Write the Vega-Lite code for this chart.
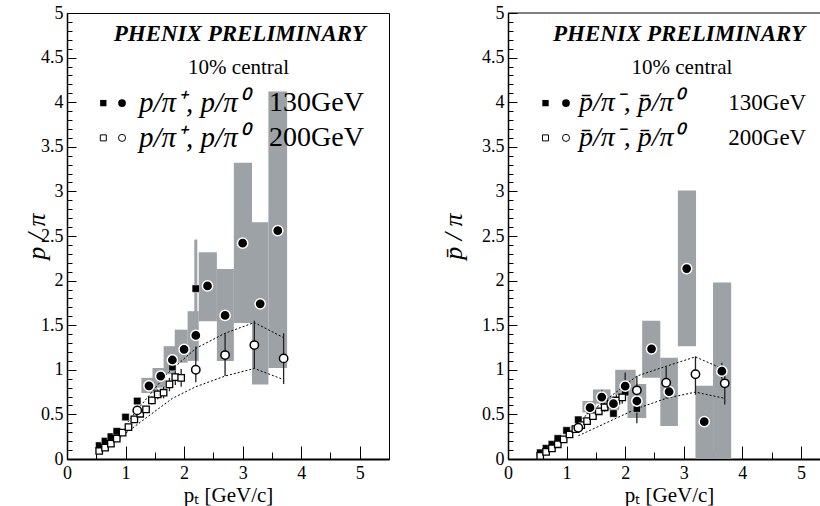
{
  "$schema": "https://vega.github.io/schema/vega-lite/v6.json",
  "background": "white",
  "padding": {"left": 22, "top": 3, "right": 0, "bottom": 0},
  "spacing": 50,
  "config": {
    "font": "Liberation Serif",
    "view": {"stroke": null},
    "axis": {
      "grid": false,
      "labelColor": "black",
      "labelFont": "Liberation Serif",
      "labelFontSize": 18,
      "labelOverlap": false,
      "labelFlush": false,
      "labelBound": false,
      "tickColor": "black",
      "tickWidth": 1,
      "domainColor": "black",
      "titleColor": "black",
      "titleFont": "Liberation Serif",
      "titleFontWeight": "normal"
    },
    "axisX": {
      "labelPadding": 18,
      "domainWidth": 2,
      "titleFontSize": 21,
      "titleX": 161,
      "titleY": 36,
      "titleAlign": "center",
      "titleBaseline": "middle"
    },
    "axisY": {
      "labelPadding": 13,
      "domainWidth": 1.5,
      "titleFontSize": 26,
      "titleFontStyle": "italic",
      "titleY": 223,
      "titleAngle": -90,
      "titleAlign": "center",
      "titleBaseline": "middle"
    }
  },
  "datasets": {
    "L": [
      {"series": "sq130", "pt": 0.55, "r": 0.15},
      {"series": "sq130", "pt": 0.65, "r": 0.2},
      {"series": "sq130", "pt": 0.75, "r": 0.25},
      {"series": "sq130", "pt": 0.85, "r": 0.31},
      {"series": "sq130", "pt": 1.0, "r": 0.47},
      {"series": "sq130", "pt": 1.2, "r": 0.65},
      {"series": "sq130", "pt": 1.8, "r": 1.03},
      {"series": "sq130", "pt": 2.2, "r": 1.91},
      {"series": "sq200", "pt": 0.55, "r": 0.09},
      {"series": "sq200", "pt": 0.65, "r": 0.127},
      {"series": "sq200", "pt": 0.75, "r": 0.172},
      {"series": "sq200", "pt": 0.85, "r": 0.228},
      {"series": "sq200", "pt": 0.95, "r": 0.295},
      {"series": "sq200", "pt": 1.05, "r": 0.358},
      {"series": "sq200", "pt": 1.15, "r": 0.444},
      {"series": "sq200", "pt": 1.25, "r": 0.507},
      {"series": "sq200", "pt": 1.35, "r": 0.556},
      {"series": "sq200", "pt": 1.45, "r": 0.657, "lo": 0.61, "hi": 0.7},
      {"series": "sq200", "pt": 1.55, "r": 0.724, "lo": 0.67, "hi": 0.78},
      {"series": "sq200", "pt": 1.65, "r": 0.743, "lo": 0.68, "hi": 0.81},
      {"series": "sq200", "pt": 1.75, "r": 0.836, "lo": 0.76, "hi": 0.91},
      {"series": "sq200", "pt": 1.85, "r": 0.918, "lo": 0.83, "hi": 1.01},
      {"series": "sq200", "pt": 1.95, "r": 0.91, "lo": 0.81, "hi": 1.01},
      {"series": "ci130", "pt": 1.4, "r": 0.82},
      {"series": "ci130", "pt": 1.6, "r": 0.93},
      {"series": "ci130", "pt": 1.8, "r": 1.11},
      {"series": "ci130", "pt": 2.0, "r": 1.23},
      {"series": "ci130", "pt": 2.2, "r": 1.385},
      {"series": "ci130", "pt": 2.4, "r": 1.94},
      {"series": "ci130", "pt": 2.7, "r": 1.61},
      {"series": "ci130", "pt": 3.0, "r": 2.42},
      {"series": "ci130", "pt": 3.3, "r": 1.74},
      {"series": "ci130", "pt": 3.6, "r": 2.56},
      {"series": "ci200", "pt": 1.2, "r": 0.545},
      {"series": "ci200", "pt": 2.2, "r": 1.0, "lo": 0.86, "hi": 1.26},
      {"series": "ci200", "pt": 2.7, "r": 1.165, "lo": 0.93, "hi": 1.41},
      {"series": "ci200", "pt": 3.2, "r": 1.277, "lo": 1.01, "hi": 1.55},
      {"series": "ci200", "pt": 3.7, "r": 1.128, "lo": 0.84, "hi": 1.41}
    ],
    "Lsys": [
      {"pt": 1.27, "pt2": 1.54, "r": 0.74, "r2": 0.91},
      {"pt": 1.46, "pt2": 1.68, "r": 0.8, "r2": 1.02},
      {"pt": 1.65, "pt2": 1.86, "r": 0.95, "r2": 1.265},
      {"pt": 1.84, "pt2": 2.06, "r": 1.08, "r2": 1.45},
      {"pt": 2.06, "pt2": 2.25, "r": 1.1, "r2": 1.657},
      {"pt": 2.25, "pt2": 2.56, "r": 1.545, "r2": 2.318},
      {"pt": 2.56, "pt2": 2.85, "r": 1.1, "r2": 2.13},
      {"pt": 2.85, "pt2": 3.16, "r": 1.526, "r2": 3.32},
      {"pt": 3.16, "pt2": 3.44, "r": 0.836, "r2": 2.654},
      {"pt": 3.44, "pt2": 3.76, "r": 1.02, "r2": 4.12}
    ],
    "Lsysline": [
      {"pt": 2.2, "lo": 1.6, "hi": 2.46}
    ],
    "Lband": [
      {"edge": "upper", "pt": 1.0, "r": 0.38},
      {"edge": "upper", "pt": 1.2, "r": 0.55},
      {"edge": "upper", "pt": 1.7, "r": 0.95},
      {"edge": "upper", "pt": 2.2, "r": 1.24},
      {"edge": "upper", "pt": 2.7, "r": 1.41},
      {"edge": "upper", "pt": 3.2, "r": 1.53},
      {"edge": "upper", "pt": 3.7, "r": 1.36},
      {"edge": "lower", "pt": 0.9, "r": 0.24},
      {"edge": "lower", "pt": 1.8, "r": 0.68},
      {"edge": "lower", "pt": 2.2, "r": 0.81},
      {"edge": "lower", "pt": 2.7, "r": 0.93},
      {"edge": "lower", "pt": 3.2, "r": 1.015},
      {"edge": "lower", "pt": 3.7, "r": 0.89}
    ],
    "R": [
      {"series": "sq130", "pt": 0.55, "r": 0.07},
      {"series": "sq130", "pt": 0.65, "r": 0.12},
      {"series": "sq130", "pt": 0.75, "r": 0.165},
      {"series": "sq130", "pt": 0.85, "r": 0.23},
      {"series": "sq130", "pt": 1.0, "r": 0.32},
      {"series": "sq130", "pt": 1.2, "r": 0.44},
      {"series": "sq130", "pt": 1.4, "r": 0.545},
      {"series": "sq130", "pt": 1.8, "r": 0.51},
      {"series": "sq130", "pt": 2.0, "r": 0.75},
      {"series": "sq130", "pt": 2.2, "r": 0.565},
      {"series": "sq200", "pt": 0.55, "r": 0.035},
      {"series": "sq200", "pt": 0.65, "r": 0.08},
      {"series": "sq200", "pt": 0.75, "r": 0.12},
      {"series": "sq200", "pt": 0.85, "r": 0.165},
      {"series": "sq200", "pt": 0.95, "r": 0.22},
      {"series": "sq200", "pt": 1.05, "r": 0.275},
      {"series": "sq200", "pt": 1.15, "r": 0.335},
      {"series": "sq200", "pt": 1.25, "r": 0.38},
      {"series": "sq200", "pt": 1.35, "r": 0.425},
      {"series": "sq200", "pt": 1.45, "r": 0.48},
      {"series": "sq200", "pt": 1.55, "r": 0.535},
      {"series": "sq200", "pt": 1.65, "r": 0.58, "lo": 0.53, "hi": 0.63},
      {"series": "sq200", "pt": 1.75, "r": 0.62, "lo": 0.56, "hi": 0.68},
      {"series": "sq200", "pt": 1.85, "r": 0.655, "lo": 0.59, "hi": 0.72},
      {"series": "sq200", "pt": 1.95, "r": 0.69, "lo": 0.62, "hi": 0.76},
      {"series": "ci130", "pt": 1.4, "r": 0.575, "lo": 0.5, "hi": 0.64},
      {"series": "ci130", "pt": 1.6, "r": 0.694, "lo": 0.62, "hi": 0.77},
      {"series": "ci130", "pt": 1.8, "r": 0.62, "lo": 0.53, "hi": 0.7},
      {"series": "ci130", "pt": 2.0, "r": 0.817, "lo": 0.66, "hi": 0.97},
      {"series": "ci130", "pt": 2.2, "r": 0.65, "lo": 0.4, "hi": 0.79},
      {"series": "ci130", "pt": 2.45, "r": 1.235},
      {"series": "ci130", "pt": 2.75, "r": 0.754},
      {"series": "ci130", "pt": 3.05, "r": 2.135},
      {"series": "ci130", "pt": 3.35, "r": 0.418},
      {"series": "ci130", "pt": 3.65, "r": 0.985, "lo": 0.9, "hi": 1.08},
      {"series": "ci200", "pt": 1.2, "r": 0.35},
      {"series": "ci200", "pt": 2.2, "r": 0.77, "lo": 0.6, "hi": 0.93},
      {"series": "ci200", "pt": 2.7, "r": 0.855, "lo": 0.68, "hi": 1.03},
      {"series": "ci200", "pt": 3.2, "r": 0.95, "lo": 0.72, "hi": 1.15},
      {"series": "ci200", "pt": 3.7, "r": 0.848, "lo": 0.61, "hi": 1.02}
    ],
    "Rsys": [
      {"pt": 1.27, "pt2": 1.5, "r": 0.52, "r2": 0.65},
      {"pt": 1.45, "pt2": 1.75, "r": 0.62, "r2": 0.78},
      {"pt": 1.7, "pt2": 1.9, "r": 0.55, "r2": 0.7},
      {"pt": 1.83, "pt2": 2.18, "r": 0.72, "r2": 1.0},
      {"pt": 2.04, "pt2": 2.36, "r": 0.46, "r2": 0.84},
      {"pt": 2.29, "pt2": 2.6, "r": 0.91, "r2": 1.55},
      {"pt": 2.6, "pt2": 2.9, "r": 0.37, "r2": 1.135},
      {"pt": 2.9, "pt2": 3.21, "r": 1.265, "r2": 3.01},
      {"pt": 3.2, "pt2": 3.5, "r": 0.0, "r2": 0.82},
      {"pt": 3.5, "pt2": 3.81, "r": 0.0, "r2": 1.98}
    ],
    "Rband": [
      {"edge": "upper", "pt": 1.2, "r": 0.42},
      {"edge": "upper", "pt": 2.2, "r": 0.93},
      {"edge": "upper", "pt": 2.7, "r": 1.04},
      {"edge": "upper", "pt": 3.2, "r": 1.145},
      {"edge": "upper", "pt": 3.7, "r": 1.0},
      {"edge": "lower", "pt": 1.2, "r": 0.26},
      {"edge": "lower", "pt": 2.2, "r": 0.565},
      {"edge": "lower", "pt": 2.7, "r": 0.68},
      {"edge": "lower", "pt": 3.2, "r": 0.75},
      {"edge": "lower", "pt": 3.7, "r": 0.68}
    ],
    "legL": [
      {"label": "PHENIX PRELIMINARY", "role": "head"},
      {"label": "10% central", "role": "sub"},
      {"label": "p/π⁺,   p/π⁰", "role": "ratio130"},
      {"label": "p/π⁺,   p/π⁰", "role": "ratio200"},
      {"label": "130GeV", "role": "e130"},
      {"label": "200GeV", "role": "e200"}
    ],
    "legR": [
      {"label": "PHENIX PRELIMINARY", "role": "head"},
      {"label": "10% central", "role": "sub"},
      {"label": "p̄/π⁻,   p̄/π⁰", "role": "ratio130"},
      {"label": "p̄/π⁻,   p̄/π⁰", "role": "ratio200"},
      {"label": "130GeV", "role": "e130"},
      {"label": "200GeV", "role": "e200"}
    ],
    "sym": [
      {"series": "sq130"},
      {"series": "ci130"},
      {"series": "sq200"},
      {"series": "ci200"}
    ],
    "frame": [
      {"part": "top"}
    ]
  },
  "hconcat": [
    {
      "width": 322,
      "height": 446,
      "view": {"stroke": "black", "strokeWidth": 1},
      "layer": [
        {
          "data": {"name": "Lsys"},
          "mark": {"type": "rect", "fill": "#9da2a7", "clip": true},
          "encoding": {
            "x": {"field": "pt", "type": "quantitative", "scale": {"domain": [0, 5.5], "nice": false, "zero": false},
              "axis": {"tickCount": 11, "labelExpr": "datum.value % 1 == 0 ? format(datum.value, '') : ''", "tickSize": {"condition": {"test": "datum.value % 1 == 0", "value": -13}, "value": -7}, "title": "pₜ [GeV/c]"}},
            "x2": {"field": "pt2"},
            "y": {"field": "r", "type": "quantitative", "scale": {"domain": [0, 5], "nice": false, "zero": false},
              "axis": {"tickCount": 50, "labelExpr": "abs(datum.value*2 - round(datum.value*2)) < 0.001 ? format(datum.value, '') : ''", "tickSize": {"condition": {"test": "abs(datum.value*2 - round(datum.value*2)) < 0.001", "value": -9}, "value": -5}, "title": "p / π", "titleX": -31}},
            "y2": {"field": "r2"}
          }
        },
        {
          "data": {"name": "Lsysline"},
          "mark": {"type": "rule", "color": "#9da2a7", "strokeWidth": 3},
          "encoding": {
            "x": {"field": "pt", "type": "quantitative",
              "axis": {"tickCount": 11, "labelExpr": "datum.value % 1 == 0 ? format(datum.value, '') : ''", "tickSize": {"condition": {"test": "datum.value % 1 == 0", "value": -13}, "value": -7}, "title": "pₜ [GeV/c]"}},
            "y": {"field": "lo", "type": "quantitative",
              "axis": {"tickCount": 50, "labelExpr": "abs(datum.value*2 - round(datum.value*2)) < 0.001 ? format(datum.value, '') : ''", "tickSize": {"condition": {"test": "abs(datum.value*2 - round(datum.value*2)) < 0.001", "value": -9}, "value": -5}, "title": "p / π", "titleX": -31}},
            "y2": {"field": "hi"}
          }
        },
        {
          "data": {"name": "Lband"},
          "mark": {"type": "line", "color": "black", "strokeWidth": 1, "strokeDash": [2, 2]},
          "encoding": {
            "x": {"field": "pt", "type": "quantitative",
              "axis": {"tickCount": 11, "labelExpr": "datum.value % 1 == 0 ? format(datum.value, '') : ''", "tickSize": {"condition": {"test": "datum.value % 1 == 0", "value": -13}, "value": -7}, "title": "pₜ [GeV/c]"}},
            "y": {"field": "r", "type": "quantitative",
              "axis": {"tickCount": 50, "labelExpr": "abs(datum.value*2 - round(datum.value*2)) < 0.001 ? format(datum.value, '') : ''", "tickSize": {"condition": {"test": "abs(datum.value*2 - round(datum.value*2)) < 0.001", "value": -9}, "value": -5}, "title": "p / π", "titleX": -31}},
            "detail": {"field": "edge"}
          }
        },
        {
          "data": {"name": "L"},
          "transform": [{"filter": "isValid(datum.lo)"}],
          "mark": {"type": "rule", "color": "#222", "strokeWidth": 1.3},
          "encoding": {
            "x": {"field": "pt", "type": "quantitative",
              "axis": {"tickCount": 11, "labelExpr": "datum.value % 1 == 0 ? format(datum.value, '') : ''", "tickSize": {"condition": {"test": "datum.value % 1 == 0", "value": -13}, "value": -7}, "title": "pₜ [GeV/c]"}},
            "y": {"field": "lo", "type": "quantitative",
              "axis": {"tickCount": 50, "labelExpr": "abs(datum.value*2 - round(datum.value*2)) < 0.001 ? format(datum.value, '') : ''", "tickSize": {"condition": {"test": "abs(datum.value*2 - round(datum.value*2)) < 0.001", "value": -9}, "value": -5}, "title": "p / π", "titleX": -31}},
            "y2": {"field": "hi"}
          }
        },
        {
          "data": {"name": "L"},
          "layer": [
            {"transform": [{"filter": "datum.series == 'sq130'"}], "mark": {"type": "point", "shape": "square", "filled": true, "fill": "black", "stroke": "white", "strokeWidth": 0.5, "size": 55, "opacity": 1}},
            {"transform": [{"filter": "datum.series == 'sq200'"}], "mark": {"type": "point", "shape": "square", "filled": true, "fill": "white", "stroke": "black", "strokeWidth": 1.3, "size": 42, "opacity": 1}},
            {"transform": [{"filter": "datum.series == 'ci130'"}], "mark": {"type": "point", "shape": "circle", "filled": true, "fill": "black", "stroke": "white", "strokeWidth": 1.5, "size": 105, "opacity": 1}},
            {"transform": [{"filter": "datum.series == 'ci200'"}], "mark": {"type": "point", "shape": "circle", "filled": true, "fill": "white", "stroke": "black", "strokeWidth": 1.5, "size": 70, "opacity": 1}}
          ],
          "encoding": {
            "x": {"field": "pt", "type": "quantitative",
              "axis": {"tickCount": 11, "labelExpr": "datum.value % 1 == 0 ? format(datum.value, '') : ''", "tickSize": {"condition": {"test": "datum.value % 1 == 0", "value": -13}, "value": -7}, "title": "pₜ [GeV/c]"}},
            "y": {"field": "r", "type": "quantitative",
              "axis": {"tickCount": 50, "labelExpr": "abs(datum.value*2 - round(datum.value*2)) < 0.001 ? format(datum.value, '') : ''", "tickSize": {"condition": {"test": "abs(datum.value*2 - round(datum.value*2)) < 0.001", "value": -9}, "value": -5}, "title": "p / π", "titleX": -31}}
          }
        },
        {
          "data": {"name": "sym"},
          "transform": [{"filter": "datum.series == 'sq130'"}],
          "mark": {"type": "point", "shape": "square", "filled": true, "fill": "black", "size": 40, "opacity": 1},
          "encoding": {
            "x": {"datum": 0.62, "axis": {"tickCount": 11, "labelExpr": "datum.value % 1 == 0 ? format(datum.value, '') : ''", "tickSize": {"condition": {"test": "datum.value % 1 == 0", "value": -13}, "value": -7}, "title": "pₜ [GeV/c]"}},
            "y": {"datum": 3.99, "axis": {"tickCount": 50, "labelExpr": "abs(datum.value*2 - round(datum.value*2)) < 0.001 ? format(datum.value, '') : ''", "tickSize": {"condition": {"test": "abs(datum.value*2 - round(datum.value*2)) < 0.001", "value": -9}, "value": -5}, "title": "p / π", "titleX": -31}}
          }
        },
        {
          "data": {"name": "sym"},
          "transform": [{"filter": "datum.series == 'ci130'"}],
          "mark": {"type": "point", "shape": "circle", "filled": true, "fill": "black", "size": 60, "opacity": 1},
          "encoding": {
            "x": {"datum": 0.94, "axis": {"tickCount": 11, "labelExpr": "datum.value % 1 == 0 ? format(datum.value, '') : ''", "tickSize": {"condition": {"test": "datum.value % 1 == 0", "value": -13}, "value": -7}, "title": "pₜ [GeV/c]"}},
            "y": {"datum": 3.99, "axis": {"tickCount": 50, "labelExpr": "abs(datum.value*2 - round(datum.value*2)) < 0.001 ? format(datum.value, '') : ''", "tickSize": {"condition": {"test": "abs(datum.value*2 - round(datum.value*2)) < 0.001", "value": -9}, "value": -5}, "title": "p / π", "titleX": -31}}
          }
        },
        {
          "data": {"name": "sym"},
          "transform": [{"filter": "datum.series == 'sq200'"}],
          "mark": {"type": "point", "shape": "square", "filled": true, "fill": "white", "stroke": "black", "strokeWidth": 1, "size": 36, "opacity": 1},
          "encoding": {
            "x": {"datum": 0.62, "axis": {"tickCount": 11, "labelExpr": "datum.value % 1 == 0 ? format(datum.value, '') : ''", "tickSize": {"condition": {"test": "datum.value % 1 == 0", "value": -13}, "value": -7}, "title": "pₜ [GeV/c]"}},
            "y": {"datum": 3.6, "axis": {"tickCount": 50, "labelExpr": "abs(datum.value*2 - round(datum.value*2)) < 0.001 ? format(datum.value, '') : ''", "tickSize": {"condition": {"test": "abs(datum.value*2 - round(datum.value*2)) < 0.001", "value": -9}, "value": -5}, "title": "p / π", "titleX": -31}}
          }
        },
        {
          "data": {"name": "sym"},
          "transform": [{"filter": "datum.series == 'ci200'"}],
          "mark": {"type": "point", "shape": "circle", "filled": true, "fill": "white", "stroke": "black", "strokeWidth": 1, "size": 50, "opacity": 1},
          "encoding": {
            "x": {"datum": 0.94, "axis": {"tickCount": 11, "labelExpr": "datum.value % 1 == 0 ? format(datum.value, '') : ''", "tickSize": {"condition": {"test": "datum.value % 1 == 0", "value": -13}, "value": -7}, "title": "pₜ [GeV/c]"}},
            "y": {"datum": 3.6, "axis": {"tickCount": 50, "labelExpr": "abs(datum.value*2 - round(datum.value*2)) < 0.001 ? format(datum.value, '') : ''", "tickSize": {"condition": {"test": "abs(datum.value*2 - round(datum.value*2)) < 0.001", "value": -9}, "value": -5}, "title": "p / π", "titleX": -31}}
          }
        },
        {
          "data": {"name": "legL"},
          "transform": [{"filter": "datum.role == 'head'"}],
          "mark": {"type": "text", "fontSize": 23, "fontWeight": "bold", "fontStyle": "italic", "align": "center", "baseline": "middle", "color": "black"},
          "encoding": {
            "text": {"field": "label"},
            "x": {"datum": 2.95, "axis": {"tickCount": 11, "labelExpr": "datum.value % 1 == 0 ? format(datum.value, '') : ''", "tickSize": {"condition": {"test": "datum.value % 1 == 0", "value": -13}, "value": -7}, "title": "pₜ [GeV/c]"}},
            "y": {"datum": 4.76, "axis": {"tickCount": 50, "labelExpr": "abs(datum.value*2 - round(datum.value*2)) < 0.001 ? format(datum.value, '') : ''", "tickSize": {"condition": {"test": "abs(datum.value*2 - round(datum.value*2)) < 0.001", "value": -9}, "value": -5}, "title": "p / π", "titleX": -31}}
          }
        },
        {
          "data": {"name": "legL"},
          "transform": [{"filter": "datum.role == 'sub'"}],
          "mark": {"type": "text", "fontSize": 21, "align": "center", "baseline": "middle", "color": "black"},
          "encoding": {
            "text": {"field": "label"},
            "x": {"datum": 2.93, "axis": {"tickCount": 11, "labelExpr": "datum.value % 1 == 0 ? format(datum.value, '') : ''", "tickSize": {"condition": {"test": "datum.value % 1 == 0", "value": -13}, "value": -7}, "title": "pₜ [GeV/c]"}},
            "y": {"datum": 4.38, "axis": {"tickCount": 50, "labelExpr": "abs(datum.value*2 - round(datum.value*2)) < 0.001 ? format(datum.value, '') : ''", "tickSize": {"condition": {"test": "abs(datum.value*2 - round(datum.value*2)) < 0.001", "value": -9}, "value": -5}, "title": "p / π", "titleX": -31}}
          }
        },
        {
          "data": {"name": "legL"},
          "transform": [{"filter": "datum.role == 'ratio130'"}],
          "mark": {"type": "text", "fontSize": 29, "fontStyle": "italic", "align": "left", "baseline": "middle", "color": "black"},
          "encoding": {
            "text": {"field": "label"},
            "x": {"datum": 1.23, "axis": {"tickCount": 11, "labelExpr": "datum.value % 1 == 0 ? format(datum.value, '') : ''", "tickSize": {"condition": {"test": "datum.value % 1 == 0", "value": -13}, "value": -7}, "title": "pₜ [GeV/c]"}},
            "y": {"datum": 3.99, "axis": {"tickCount": 50, "labelExpr": "abs(datum.value*2 - round(datum.value*2)) < 0.001 ? format(datum.value, '') : ''", "tickSize": {"condition": {"test": "abs(datum.value*2 - round(datum.value*2)) < 0.001", "value": -9}, "value": -5}, "title": "p / π", "titleX": -31}}
          }
        },
        {
          "data": {"name": "legL"},
          "transform": [{"filter": "datum.role == 'ratio200'"}],
          "mark": {"type": "text", "fontSize": 29, "fontStyle": "italic", "align": "left", "baseline": "middle", "color": "black"},
          "encoding": {
            "text": {"field": "label"},
            "x": {"datum": 1.23, "axis": {"tickCount": 11, "labelExpr": "datum.value % 1 == 0 ? format(datum.value, '') : ''", "tickSize": {"condition": {"test": "datum.value % 1 == 0", "value": -13}, "value": -7}, "title": "pₜ [GeV/c]"}},
            "y": {"datum": 3.6, "axis": {"tickCount": 50, "labelExpr": "abs(datum.value*2 - round(datum.value*2)) < 0.001 ? format(datum.value, '') : ''", "tickSize": {"condition": {"test": "abs(datum.value*2 - round(datum.value*2)) < 0.001", "value": -9}, "value": -5}, "title": "p / π", "titleX": -31}}
          }
        },
        {
          "data": {"name": "legL"},
          "transform": [{"filter": "datum.role == 'e130'"}],
          "mark": {"type": "text", "fontSize": 28, "align": "left", "baseline": "middle", "color": "black"},
          "encoding": {
            "text": {"field": "label"},
            "x": {"datum": 3.45, "axis": {"tickCount": 11, "labelExpr": "datum.value % 1 == 0 ? format(datum.value, '') : ''", "tickSize": {"condition": {"test": "datum.value % 1 == 0", "value": -13}, "value": -7}, "title": "pₜ [GeV/c]"}},
            "y": {"datum": 3.99, "axis": {"tickCount": 50, "labelExpr": "abs(datum.value*2 - round(datum.value*2)) < 0.001 ? format(datum.value, '') : ''", "tickSize": {"condition": {"test": "abs(datum.value*2 - round(datum.value*2)) < 0.001", "value": -9}, "value": -5}, "title": "p / π", "titleX": -31}}
          }
        },
        {
          "data": {"name": "legL"},
          "transform": [{"filter": "datum.role == 'e200'"}],
          "mark": {"type": "text", "fontSize": 28, "align": "left", "baseline": "middle", "color": "black"},
          "encoding": {
            "text": {"field": "label"},
            "x": {"datum": 3.45, "axis": {"tickCount": 11, "labelExpr": "datum.value % 1 == 0 ? format(datum.value, '') : ''", "tickSize": {"condition": {"test": "datum.value % 1 == 0", "value": -13}, "value": -7}, "title": "pₜ [GeV/c]"}},
            "y": {"datum": 3.6, "axis": {"tickCount": 50, "labelExpr": "abs(datum.value*2 - round(datum.value*2)) < 0.001 ? format(datum.value, '') : ''", "tickSize": {"condition": {"test": "abs(datum.value*2 - round(datum.value*2)) < 0.001", "value": -9}, "value": -5}, "title": "p / π", "titleX": -31}}
          }
        }
      ]
    },
    {
      "width": 314,
      "height": 446,
      "view": {"stroke": null},
      "layer": [
        {
          "data": {"name": "Rsys"},
          "mark": {"type": "rect", "fill": "#9da2a7", "clip": true},
          "encoding": {
            "x": {"field": "pt", "type": "quantitative", "scale": {"domain": [0, 5.36], "nice": false, "zero": false},
              "axis": {"tickCount": 11, "labelExpr": "datum.value % 1 == 0 ? format(datum.value, '') : ''", "tickSize": {"condition": {"test": "datum.value % 1 == 0", "value": -13}, "value": -7}, "title": "pₜ [GeV/c]"}},
            "x2": {"field": "pt2"},
            "y": {"field": "r", "type": "quantitative", "scale": {"domain": [0, 5], "nice": false, "zero": false},
              "axis": {"tickCount": 50, "labelExpr": "abs(datum.value*2 - round(datum.value*2)) < 0.001 ? format(datum.value, '') : ''", "tickSize": {"condition": {"test": "abs(datum.value*2 - round(datum.value*2)) < 0.001", "value": -9}, "value": -5}, "title": "p̄ / π", "titleX": -55}},
            "y2": {"field": "r2"}
          }
        },
        {
          "data": {"name": "frame"},
          "mark": {"type": "rule", "color": "black", "strokeWidth": 1},
          "encoding": {
            "x": {"datum": 0, "axis": {"tickCount": 11, "labelExpr": "datum.value % 1 == 0 ? format(datum.value, '') : ''", "tickSize": {"condition": {"test": "datum.value % 1 == 0", "value": -13}, "value": -7}, "title": "pₜ [GeV/c]"}},
            "x2": {"datum": 5.36},
            "y": {"datum": 5, "axis": {"tickCount": 50, "labelExpr": "abs(datum.value*2 - round(datum.value*2)) < 0.001 ? format(datum.value, '') : ''", "tickSize": {"condition": {"test": "abs(datum.value*2 - round(datum.value*2)) < 0.001", "value": -9}, "value": -5}, "title": "p̄ / π", "titleX": -55}}
          }
        },
        {
          "data": {"name": "Rband"},
          "mark": {"type": "line", "color": "black", "strokeWidth": 1, "strokeDash": [2, 2]},
          "encoding": {
            "x": {"field": "pt", "type": "quantitative",
              "axis": {"tickCount": 11, "labelExpr": "datum.value % 1 == 0 ? format(datum.value, '') : ''", "tickSize": {"condition": {"test": "datum.value % 1 == 0", "value": -13}, "value": -7}, "title": "pₜ [GeV/c]"}},
            "y": {"field": "r", "type": "quantitative",
              "axis": {"tickCount": 50, "labelExpr": "abs(datum.value*2 - round(datum.value*2)) < 0.001 ? format(datum.value, '') : ''", "tickSize": {"condition": {"test": "abs(datum.value*2 - round(datum.value*2)) < 0.001", "value": -9}, "value": -5}, "title": "p̄ / π", "titleX": -55}},
            "detail": {"field": "edge"}
          }
        },
        {
          "data": {"name": "R"},
          "transform": [{"filter": "isValid(datum.lo)"}],
          "mark": {"type": "rule", "color": "#222", "strokeWidth": 1.3},
          "encoding": {
            "x": {"field": "pt", "type": "quantitative",
              "axis": {"tickCount": 11, "labelExpr": "datum.value % 1 == 0 ? format(datum.value, '') : ''", "tickSize": {"condition": {"test": "datum.value % 1 == 0", "value": -13}, "value": -7}, "title": "pₜ [GeV/c]"}},
            "y": {"field": "lo", "type": "quantitative",
              "axis": {"tickCount": 50, "labelExpr": "abs(datum.value*2 - round(datum.value*2)) < 0.001 ? format(datum.value, '') : ''", "tickSize": {"condition": {"test": "abs(datum.value*2 - round(datum.value*2)) < 0.001", "value": -9}, "value": -5}, "title": "p̄ / π", "titleX": -55}},
            "y2": {"field": "hi"}
          }
        },
        {
          "data": {"name": "R"},
          "layer": [
            {"transform": [{"filter": "datum.series == 'sq130'"}], "mark": {"type": "point", "shape": "square", "filled": true, "fill": "black", "stroke": "white", "strokeWidth": 0.5, "size": 55, "opacity": 1}},
            {"transform": [{"filter": "datum.series == 'sq200'"}], "mark": {"type": "point", "shape": "square", "filled": true, "fill": "white", "stroke": "black", "strokeWidth": 1.3, "size": 42, "opacity": 1}},
            {"transform": [{"filter": "datum.series == 'ci130'"}], "mark": {"type": "point", "shape": "circle", "filled": true, "fill": "black", "stroke": "white", "strokeWidth": 1.5, "size": 105, "opacity": 1}},
            {"transform": [{"filter": "datum.series == 'ci200'"}], "mark": {"type": "point", "shape": "circle", "filled": true, "fill": "white", "stroke": "black", "strokeWidth": 1.5, "size": 70, "opacity": 1}}
          ],
          "encoding": {
            "x": {"field": "pt", "type": "quantitative",
              "axis": {"tickCount": 11, "labelExpr": "datum.value % 1 == 0 ? format(datum.value, '') : ''", "tickSize": {"condition": {"test": "datum.value % 1 == 0", "value": -13}, "value": -7}, "title": "pₜ [GeV/c]"}},
            "y": {"field": "r", "type": "quantitative",
              "axis": {"tickCount": 50, "labelExpr": "abs(datum.value*2 - round(datum.value*2)) < 0.001 ? format(datum.value, '') : ''", "tickSize": {"condition": {"test": "abs(datum.value*2 - round(datum.value*2)) < 0.001", "value": -9}, "value": -5}, "title": "p̄ / π", "titleX": -55}}
          }
        },
        {
          "data": {"name": "sym"},
          "transform": [{"filter": "datum.series == 'sq130'"}],
          "mark": {"type": "point", "shape": "square", "filled": true, "fill": "black", "size": 40, "opacity": 1},
          "encoding": {
            "x": {"datum": 0.64, "axis": {"tickCount": 11, "labelExpr": "datum.value % 1 == 0 ? format(datum.value, '') : ''", "tickSize": {"condition": {"test": "datum.value % 1 == 0", "value": -13}, "value": -7}, "title": "pₜ [GeV/c]"}},
            "y": {"datum": 3.99, "axis": {"tickCount": 50, "labelExpr": "abs(datum.value*2 - round(datum.value*2)) < 0.001 ? format(datum.value, '') : ''", "tickSize": {"condition": {"test": "abs(datum.value*2 - round(datum.value*2)) < 0.001", "value": -9}, "value": -5}, "title": "p̄ / π", "titleX": -55}}
          }
        },
        {
          "data": {"name": "sym"},
          "transform": [{"filter": "datum.series == 'ci130'"}],
          "mark": {"type": "point", "shape": "circle", "filled": true, "fill": "black", "size": 60, "opacity": 1},
          "encoding": {
            "x": {"datum": 0.99, "axis": {"tickCount": 11, "labelExpr": "datum.value % 1 == 0 ? format(datum.value, '') : ''", "tickSize": {"condition": {"test": "datum.value % 1 == 0", "value": -13}, "value": -7}, "title": "pₜ [GeV/c]"}},
            "y": {"datum": 3.99, "axis": {"tickCount": 50, "labelExpr": "abs(datum.value*2 - round(datum.value*2)) < 0.001 ? format(datum.value, '') : ''", "tickSize": {"condition": {"test": "abs(datum.value*2 - round(datum.value*2)) < 0.001", "value": -9}, "value": -5}, "title": "p̄ / π", "titleX": -55}}
          }
        },
        {
          "data": {"name": "sym"},
          "transform": [{"filter": "datum.series == 'sq200'"}],
          "mark": {"type": "point", "shape": "square", "filled": true, "fill": "white", "stroke": "black", "strokeWidth": 1, "size": 36, "opacity": 1},
          "encoding": {
            "x": {"datum": 0.64, "axis": {"tickCount": 11, "labelExpr": "datum.value % 1 == 0 ? format(datum.value, '') : ''", "tickSize": {"condition": {"test": "datum.value % 1 == 0", "value": -13}, "value": -7}, "title": "pₜ [GeV/c]"}},
            "y": {"datum": 3.6, "axis": {"tickCount": 50, "labelExpr": "abs(datum.value*2 - round(datum.value*2)) < 0.001 ? format(datum.value, '') : ''", "tickSize": {"condition": {"test": "abs(datum.value*2 - round(datum.value*2)) < 0.001", "value": -9}, "value": -5}, "title": "p̄ / π", "titleX": -55}}
          }
        },
        {
          "data": {"name": "sym"},
          "transform": [{"filter": "datum.series == 'ci200'"}],
          "mark": {"type": "point", "shape": "circle", "filled": true, "fill": "white", "stroke": "black", "strokeWidth": 1, "size": 50, "opacity": 1},
          "encoding": {
            "x": {"datum": 0.99, "axis": {"tickCount": 11, "labelExpr": "datum.value % 1 == 0 ? format(datum.value, '') : ''", "tickSize": {"condition": {"test": "datum.value % 1 == 0", "value": -13}, "value": -7}, "title": "pₜ [GeV/c]"}},
            "y": {"datum": 3.6, "axis": {"tickCount": 50, "labelExpr": "abs(datum.value*2 - round(datum.value*2)) < 0.001 ? format(datum.value, '') : ''", "tickSize": {"condition": {"test": "abs(datum.value*2 - round(datum.value*2)) < 0.001", "value": -9}, "value": -5}, "title": "p̄ / π", "titleX": -55}}
          }
        },
        {
          "data": {"name": "legR"},
          "transform": [{"filter": "datum.role == 'head'"}],
          "mark": {"type": "text", "fontSize": 23, "fontWeight": "bold", "fontStyle": "italic", "align": "center", "baseline": "middle", "color": "black"},
          "encoding": {
            "text": {"field": "label"},
            "x": {"datum": 2.92, "axis": {"tickCount": 11, "labelExpr": "datum.value % 1 == 0 ? format(datum.value, '') : ''", "tickSize": {"condition": {"test": "datum.value % 1 == 0", "value": -13}, "value": -7}, "title": "pₜ [GeV/c]"}},
            "y": {"datum": 4.76, "axis": {"tickCount": 50, "labelExpr": "abs(datum.value*2 - round(datum.value*2)) < 0.001 ? format(datum.value, '') : ''", "tickSize": {"condition": {"test": "abs(datum.value*2 - round(datum.value*2)) < 0.001", "value": -9}, "value": -5}, "title": "p̄ / π", "titleX": -55}}
          }
        },
        {
          "data": {"name": "legR"},
          "transform": [{"filter": "datum.role == 'sub'"}],
          "mark": {"type": "text", "fontSize": 21, "align": "center", "baseline": "middle", "color": "black"},
          "encoding": {
            "text": {"field": "label"},
            "x": {"datum": 2.97, "axis": {"tickCount": 11, "labelExpr": "datum.value % 1 == 0 ? format(datum.value, '') : ''", "tickSize": {"condition": {"test": "datum.value % 1 == 0", "value": -13}, "value": -7}, "title": "pₜ [GeV/c]"}},
            "y": {"datum": 4.38, "axis": {"tickCount": 50, "labelExpr": "abs(datum.value*2 - round(datum.value*2)) < 0.001 ? format(datum.value, '') : ''", "tickSize": {"condition": {"test": "abs(datum.value*2 - round(datum.value*2)) < 0.001", "value": -9}, "value": -5}, "title": "p̄ / π", "titleX": -55}}
          }
        },
        {
          "data": {"name": "legR"},
          "transform": [{"filter": "datum.role == 'ratio130'"}],
          "mark": {"type": "text", "fontSize": 28, "fontStyle": "italic", "align": "left", "baseline": "middle", "color": "black"},
          "encoding": {
            "text": {"field": "label"},
            "x": {"datum": 1.21, "axis": {"tickCount": 11, "labelExpr": "datum.value % 1 == 0 ? format(datum.value, '') : ''", "tickSize": {"condition": {"test": "datum.value % 1 == 0", "value": -13}, "value": -7}, "title": "pₜ [GeV/c]"}},
            "y": {"datum": 3.99, "axis": {"tickCount": 50, "labelExpr": "abs(datum.value*2 - round(datum.value*2)) < 0.001 ? format(datum.value, '') : ''", "tickSize": {"condition": {"test": "abs(datum.value*2 - round(datum.value*2)) < 0.001", "value": -9}, "value": -5}, "title": "p̄ / π", "titleX": -55}}
          }
        },
        {
          "data": {"name": "legR"},
          "transform": [{"filter": "datum.role == 'ratio200'"}],
          "mark": {"type": "text", "fontSize": 28, "fontStyle": "italic", "align": "left", "baseline": "middle", "color": "black"},
          "encoding": {
            "text": {"field": "label"},
            "x": {"datum": 1.21, "axis": {"tickCount": 11, "labelExpr": "datum.value % 1 == 0 ? format(datum.value, '') : ''", "tickSize": {"condition": {"test": "datum.value % 1 == 0", "value": -13}, "value": -7}, "title": "pₜ [GeV/c]"}},
            "y": {"datum": 3.6, "axis": {"tickCount": 50, "labelExpr": "abs(datum.value*2 - round(datum.value*2)) < 0.001 ? format(datum.value, '') : ''", "tickSize": {"condition": {"test": "abs(datum.value*2 - round(datum.value*2)) < 0.001", "value": -9}, "value": -5}, "title": "p̄ / π", "titleX": -55}}
          }
        },
        {
          "data": {"name": "legR"},
          "transform": [{"filter": "datum.role == 'e130'"}],
          "mark": {"type": "text", "fontSize": 23, "align": "left", "baseline": "middle", "color": "black"},
          "encoding": {
            "text": {"field": "label"},
            "x": {"datum": 3.76, "axis": {"tickCount": 11, "labelExpr": "datum.value % 1 == 0 ? format(datum.value, '') : ''", "tickSize": {"condition": {"test": "datum.value % 1 == 0", "value": -13}, "value": -7}, "title": "pₜ [GeV/c]"}},
            "y": {"datum": 3.99, "axis": {"tickCount": 50, "labelExpr": "abs(datum.value*2 - round(datum.value*2)) < 0.001 ? format(datum.value, '') : ''", "tickSize": {"condition": {"test": "abs(datum.value*2 - round(datum.value*2)) < 0.001", "value": -9}, "value": -5}, "title": "p̄ / π", "titleX": -55}}
          }
        },
        {
          "data": {"name": "legR"},
          "transform": [{"filter": "datum.role == 'e200'"}],
          "mark": {"type": "text", "fontSize": 23, "align": "left", "baseline": "middle", "color": "black"},
          "encoding": {
            "text": {"field": "label"},
            "x": {"datum": 3.76, "axis": {"tickCount": 11, "labelExpr": "datum.value % 1 == 0 ? format(datum.value, '') : ''", "tickSize": {"condition": {"test": "datum.value % 1 == 0", "value": -13}, "value": -7}, "title": "pₜ [GeV/c]"}},
            "y": {"datum": 3.6, "axis": {"tickCount": 50, "labelExpr": "abs(datum.value*2 - round(datum.value*2)) < 0.001 ? format(datum.value, '') : ''", "tickSize": {"condition": {"test": "abs(datum.value*2 - round(datum.value*2)) < 0.001", "value": -9}, "value": -5}, "title": "p̄ / π", "titleX": -55}}
          }
        }
      ]
    }
  ]
}
